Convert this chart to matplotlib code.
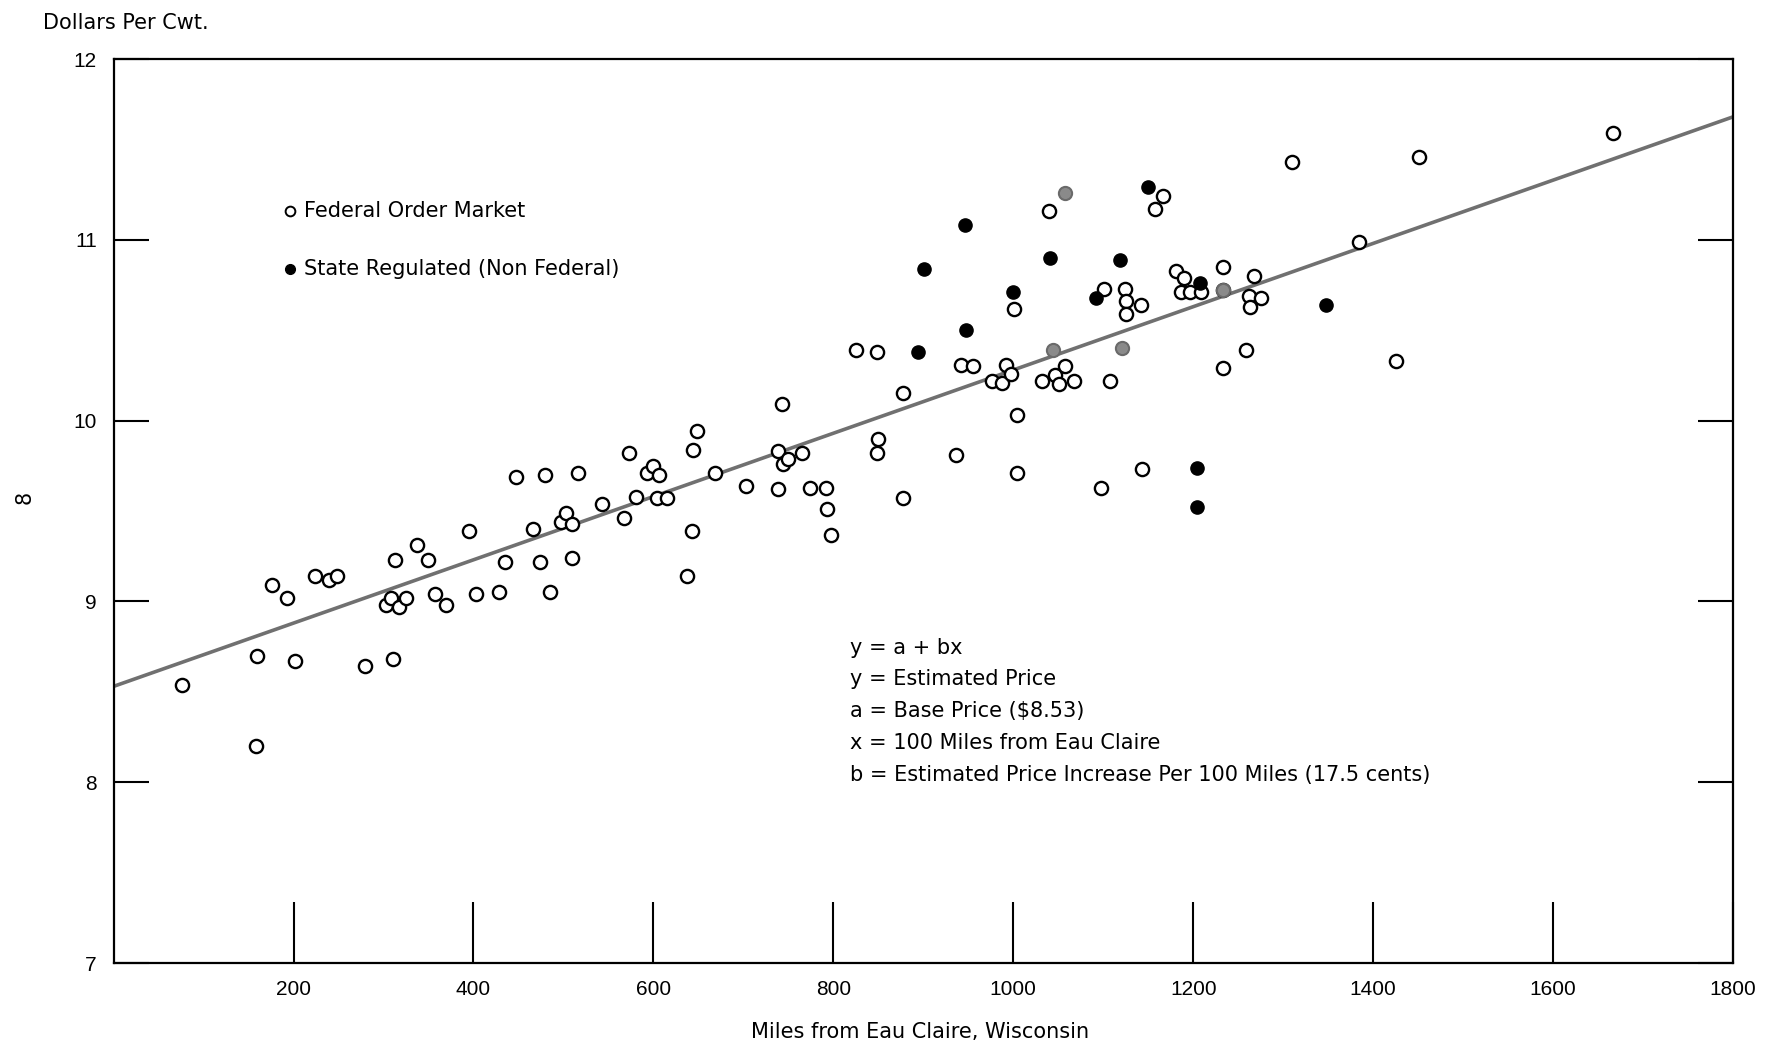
import matplotlib.pyplot as plt

plt.rcParams['font.family'] = ['Liberation Sans', 'DejaVu Sans']

# federal order markets (hollow)
fed_miles = [76, 158, 159, 176, 193, 202, 224, 240, 248, 280, 303, 308, 313, 317, 325, 311,
             337, 350, 357, 370, 395, 403, 428, 435, 447, 466, 474, 480, 485, 497, 503, 509,
             509, 516, 543, 567, 573, 581, 593, 600, 606, 604, 615, 637, 643, 644, 649, 669,
             703, 738, 739, 743, 744, 750, 765, 774, 792, 793, 797, 825, 849, 850, 849, 878,
             878, 936, 942, 955, 976, 987, 992, 997, 1001, 1004, 1004, 1040, 1032, 1046, 1051,
             1057, 1067, 1097, 1101, 1107, 1124, 1125, 1125, 1142, 1143, 1158, 1166, 1181,
             1190, 1187, 1196, 1209, 1233, 1233, 1233, 1259, 1262, 1263, 1268, 1275, 1310,
             1384, 1425, 1451, 1667]
fed_price = [8.54, 8.20, 8.70, 9.09, 9.02, 8.67, 9.14, 9.12, 9.14, 8.64, 8.98, 9.02, 9.23, 8.97,
             9.02, 8.68, 9.31, 9.23, 9.04, 8.98, 9.39, 9.04, 9.05, 9.22, 9.69, 9.40, 9.22, 9.70,
             9.05, 9.44, 9.49, 9.43, 9.24, 9.71, 9.54, 9.46, 9.82, 9.58, 9.71, 9.75, 9.70, 9.57,
             9.57, 9.14, 9.39, 9.84, 9.94, 9.71, 9.64, 9.62, 9.83, 10.09, 9.76, 9.79, 9.82, 9.63,
             9.63, 9.51, 9.37, 10.39, 10.38, 9.90, 9.82, 10.15, 9.57, 9.81, 10.31, 10.30, 10.22,
             10.21, 10.31, 10.26, 10.62, 10.03, 9.71, 11.16, 10.22, 10.25, 10.20, 10.30, 10.22,
             9.63, 10.73, 10.22, 10.73, 10.66, 10.59, 10.64, 9.73, 11.17, 11.24, 10.83, 10.79,
             10.71, 10.71, 10.71, 10.85, 10.72, 10.29, 10.39, 10.69, 10.63, 10.80, 10.68, 11.43,
             10.99, 10.33, 11.46, 11.59]

# half-toned points in the scan
grey_miles = [1057, 1044, 1121, 1233]
grey_price = [11.26, 10.39, 10.40, 10.72]

# state regulated markets (filled)
state_miles = [1150, 946, 901, 1041, 1119, 1000, 1092, 1208, 947, 894, 1348, 1204, 1204]
state_price = [11.29, 11.08, 10.84, 10.90, 10.89, 10.71, 10.68, 10.76, 10.50, 10.38, 10.64, 9.74, 9.52]

base_price = 8.53
per_mile = 0.175 / 100
line_miles = [0, 1800]

eq_lines = ["y = a + bx",
            "y = Estimated Price",
            "a = Base Price ($8.53)",
            "x = 100 Miles from Eau Claire",
            "b = Estimated Price Increase Per 100 Miles (17.5 cents)"]

txt = dict(fontsize=15, family=['DejaVu Sans'])

fig = plt.figure(figsize=(17.8, 10.48), dpi=100)
ax = fig.add_axes([0.0638, 0.0811, 0.9098, 0.8626])

ax.plot(line_miles, [base_price + per_mile * m for m in line_miles], color='#707070', lw=2.6, zorder=2)
ax.plot(fed_miles, fed_price, 'o', ms=9.5, mfc='white', mec='black', mew=1.7, zorder=3)
ax.plot(grey_miles, grey_price, 'o', ms=9.5, mfc='#8a8a8a', mec='#6a6a6a', mew=1.5, zorder=3)
ax.plot(state_miles, state_price, 'o', ms=9.5, mfc='black', mec='black', zorder=4)

ax.set_xlim(0, 1800)
ax.set_ylim(7, 12)
ax.set_xticks([200, 400, 600, 800, 1000, 1200, 1400, 1600, 1800])
ax.set_yticks([7, 8, 9, 10, 11, 12])
ax.tick_params(axis='y', direction='in', length=25, width=1.5, right=True, labelsize=15, pad=12)
ax.tick_params(axis='x', direction='in', length=44, width=1.5, labelsize=15, pad=12)
for s in ax.spines.values():
    s.set_linewidth(1.6)

# legend drawn by hand like the original
ax.plot([196], [11.16], 'o', ms=7, mfc='white', mec='black', mew=1.4, clip_on=False)
ax.text(212, 11.16, "Federal Order Market", va='center', **txt)
ax.plot([196], [10.84], 'o', ms=7, mfc='black', mec='black', clip_on=False)
ax.text(212, 10.84, "State Regulated (Non Federal)", va='center', **txt)

for i, t in enumerate(eq_lines):
    ax.text(818, 8.745 - i * 0.176, t, va='center', **txt)

fig.text(0.024, 0.978, "Dollars Per Cwt.", va='center', **txt)
fig.text(0.517, 0.015, "Miles from Eau Claire, Wisconsin", ha='center', va='center', **txt)
fig.text(0.014, 0.525, "8", rotation=90, ha='center', va='center', **txt)

fig.savefig('out.png', dpi=100)
